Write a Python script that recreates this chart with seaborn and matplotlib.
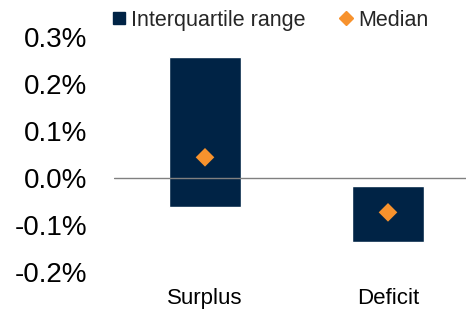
import matplotlib
matplotlib.use("Agg")
import matplotlib.pyplot as plt
from matplotlib.lines import Line2D
import seaborn as sns
import pandas as pd
import numpy as np

categories = ["Surplus", "Deficit"]
q_low = [-0.062, -0.137]
q_high = [0.258, -0.0175]
median = [0.0437, -0.0736]
yticks = [-0.2, -0.1, 0.0, 0.1, 0.2, 0.3]
ytick_labels = ["-0.2%", "-0.1%", "0.0%", "0.1%", "0.2%", "0.3%"]

navy = "#002345"
orange = "#F7922D"

sns.set_style("white")
plt.rcParams["font.family"] = ["Liberation Sans", "DejaVu Sans"]

df = pd.DataFrame({
    "cat": categories,
    "height": np.array(q_high) - np.array(q_low),
    "bottom": q_low,
    "median": median,
})

fig = plt.figure(figsize=(4.66, 3.09), dpi=100)
ax = fig.add_axes([113.5 / 466, (309 - 271.7) / 309, 366 / 466, (271.7 - 37) / 309])

sns.barplot(data=df, x="cat", y="height", bottom=df["bottom"].values, color=navy,
            width=0.39, saturation=1, ax=ax, zorder=2)
sns.scatterplot(data=df, x="cat", y="median", marker="D", s=90, color=orange,
                edgecolor="none", ax=ax, zorder=4)
ax.axhline(0, color="#808080", lw=1.0, zorder=3)

ax.set_xlim(-0.5, 1.5)
ax.set_ylim(-0.2, 0.3)
ax.set_yticks(yticks)
ax.set_yticklabels(ytick_labels)
ax.set_xlabel("")
ax.set_ylabel("")
for s in ax.spines.values():
    s.set_visible(False)
ax.tick_params(axis="y", length=0, pad=19, labelsize=20, colors="black")
ax.tick_params(axis="x", length=0, pad=12, labelsize=16, colors="black")

handles = [
    Line2D([], [], marker="s", ls="none", color=navy, markersize=9),
    Line2D([], [], marker="D", ls="none", color=orange, markersize=7.5),
]
fig.legend(handles, ["Interquartile range", "Median"], loc="center left",
           bbox_to_anchor=(113 / 466, 1 - 20.5 / 309), ncol=2, frameon=False,
           fontsize=15.5, handlelength=0.55, handletextpad=0.3, columnspacing=1.6,
           borderaxespad=0, borderpad=0)

fig.savefig("out.png", dpi=100)
